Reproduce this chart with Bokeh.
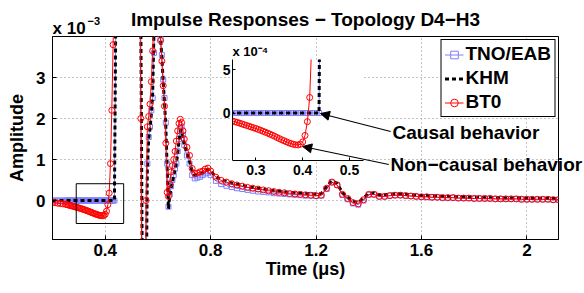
from bokeh.plotting import figure
from bokeh.models import (Range1d, FixedTicker, Legend, LegendItem, Label, Arrow,
                          NormalHead, BoxAnnotation, Column)
from bokeh.embed import file_html
from bokeh.resources import INLINE

FONT = "Liberation Sans"
BLUE = "#7f7fff"

# ---------------- data (amplitude in units of 1e-3) ----------------
time_us = [
    0.20, 0.21, 0.22, 0.23, 0.24,
    0.25, 0.255, 0.26, 0.265, 0.27, 0.275, 0.28, 0.285, 0.29, 0.295,
    0.30, 0.305, 0.31, 0.315, 0.32, 0.325, 0.33, 0.335, 0.34, 0.345,
    0.35, 0.355, 0.36, 0.365, 0.37, 0.375, 0.38, 0.385, 0.39, 0.395,
    0.40, 0.405, 0.41, 0.415, 0.42, 0.425, 0.43, 0.435, 0.44,
    0.45, 0.47, 0.50, 0.52, 0.53,
    0.535, 0.54, 0.545, 0.55, 0.555, 0.56, 0.565, 0.57, 0.575, 0.58, 0.585, 0.59, 0.595,
    0.60, 0.605, 0.61, 0.615, 0.62, 0.625, 0.63, 0.635, 0.64, 0.645, 0.65, 0.655, 0.66,
    0.665, 0.67, 0.675, 0.68, 0.685, 0.69, 0.695, 0.70,
    0.71, 0.72, 0.73, 0.74, 0.75, 0.76, 0.77, 0.78, 0.79,
    0.80, 0.82, 0.84, 0.86, 0.88, 0.90, 0.92, 0.94, 0.96, 0.98,
    1.00, 1.02, 1.04, 1.06, 1.08, 1.10, 1.12, 1.14, 1.16, 1.18,
    1.20, 1.22, 1.24, 1.26, 1.28, 1.30, 1.32, 1.34, 1.36, 1.38,
    1.40, 1.42, 1.44, 1.46, 1.48, 1.50, 1.52, 1.54, 1.56, 1.58,
    1.60, 1.62, 1.64, 1.66, 1.68, 1.70, 1.72, 1.74, 1.76, 1.78,
    1.80, 1.82, 1.84, 1.86, 1.88, 1.90, 1.92, 1.94, 1.96, 1.98,
    2.00, 2.02, 2.04, 2.06, 2.08, 2.10, 2.12,
]

tno_eab = [
    0, 0, 0, 0, 0,
    0, 0, 0, 0, 0, 0, 0, 0, 0, 0,
    0, 0, 0, 0, 0, 0, 0, 0, 0, 0,
    0, 0, 0, 0, 0, 0, 0, 0, 0, 0,
    0, 0, 0, 0, 0, 0, 0, 0, 4.3,
    10.0, 12.0, 12.0, 10.0, 8.0,
    4.2, -1.2, -6.0, -6.0, -2.2, 0.9, 1.55, 1.8, 2.2, 2.5, 3.6, 4.7, 5.0,
    4.6, 4.3, 3.95, 3.55, 2.95, 2.5, 1.9, 0.9, -0.15, 0.15, 0.35, 0.5, 0.62,
    0.78, 0.9, 1.2, 1.5, 1.78, 1.8, 1.6, 1.35,
    1.1, 0.9, 0.62, 0.54, 0.56, 0.58, 0.62, 0.66, 0.68,
    0.62, 0.48, 0.40, 0.36, 0.33, 0.30, 0.28, 0.26, 0.24, 0.22,
    0.21, 0.20, 0.18, 0.17, 0.16, 0.15, 0.14, 0.13, 0.12, 0.12,
    0.11, 0.12, 0.28, 0.44, 0.38, 0.14, 0.03, -0.07, -0.10, 0.00,
    0.14, 0.15, 0.10, 0.10, 0.12, 0.13, 0.13, 0.12, 0.11, 0.10,
    0.09, 0.09, 0.08, 0.08, 0.07, 0.07, 0.07, 0.06, 0.06, 0.06,
    0.05, 0.05, 0.05, 0.05, 0.04, 0.04, 0.04, 0.04, 0.04, 0.03,
    0.03, 0.03, 0.03, 0.03, 0.03, 0.02, 0.02,
]

khm = [
    0, 0, 0, 0, 0,
    0, 0, 0, 0, 0, 0, 0, 0, 0, 0,
    0, 0, 0, 0, 0, 0, 0, 0, 0, 0,
    0, 0, 0, 0, 0, 0, 0, 0, 0, 0,
    0, 0, 0, 0, 0, 0, 0, 0, 4.5,
    10.0, 12.0, 12.0, 10.0, 8.0,
    4.5, -1.0, -6.0, -6.0, -2.5, 0.8, 1.5, 1.75, 2.1, 2.6, 4.1, 4.8, 5.0,
    4.6, 4.3, 3.95, 3.5, 2.9, 2.4, 1.8, 0.8, -0.2, 0.12, 0.3, 0.45, 0.6,
    0.75, 0.9, 1.15, 1.45, 1.7, 1.72, 1.55, 1.35,
    1.15, 0.95, 0.72, 0.62, 0.62, 0.65, 0.68, 0.74, 0.76,
    0.72, 0.58, 0.51, 0.47, 0.43, 0.40, 0.37, 0.34, 0.32, 0.30,
    0.28, 0.26, 0.24, 0.23, 0.21, 0.20, 0.19, 0.18, 0.17, 0.16,
    0.16, 0.17, 0.33, 0.48, 0.42, 0.19, 0.08, -0.02, -0.05, 0.06,
    0.18, 0.18, 0.14, 0.14, 0.15, 0.16, 0.16, 0.15, 0.14, 0.13,
    0.12, 0.12, 0.11, 0.11, 0.10, 0.10, 0.09, 0.09, 0.09, 0.08,
    0.08, 0.08, 0.07, 0.07, 0.07, 0.07, 0.06, 0.06, 0.06, 0.06,
    0.05, 0.05, 0.05, 0.05, 0.05, 0.05, 0.05,
]

bt0 = [
    -0.045, -0.055, -0.065, -0.074, -0.083,
    -0.092, -0.101, -0.109, -0.117, -0.126, -0.135, -0.144, -0.153, -0.162, -0.171,
    -0.180, -0.190, -0.200, -0.211, -0.222, -0.233, -0.245, -0.257, -0.270, -0.283,
    -0.296, -0.309, -0.321, -0.333, -0.344, -0.354, -0.362, -0.368, -0.370, -0.362,
    -0.335, -0.260, -0.100, 0.180, 0.900, 2.200, 3.800, 5.500, 7.500,
    10.0, 12.0, 12.0, 10.0, 7.0,
    2.0, -3.0, -6.0, -4.5, 0.0, 1.8, 2.05, 2.35, 2.9, 3.65, 4.5, 5.0, 5.0,
    4.6, 4.3, 3.9, 3.4, 2.8, 2.3, 1.4, 0.2, 0.1, 0.4, 0.7, 0.85, 1.0,
    1.2, 1.45, 1.7, 1.88, 1.98, 1.9, 1.7, 1.5,
    1.3, 1.1, 0.78, 0.66, 0.67, 0.70, 0.72, 0.77, 0.79,
    0.72, 0.57, 0.49, 0.45, 0.41, 0.38, 0.35, 0.32, 0.30, 0.28,
    0.26, 0.24, 0.22, 0.20, 0.19, 0.17, 0.16, 0.15, 0.14, 0.13,
    0.12, 0.13, 0.30, 0.45, 0.38, 0.15, 0.05, -0.05, -0.08, 0.02,
    0.15, 0.15, 0.10, 0.10, 0.12, 0.13, 0.13, 0.12, 0.11, 0.10,
    0.09, 0.09, 0.08, 0.08, 0.07, 0.07, 0.07, 0.06, 0.06, 0.06,
    0.05, 0.05, 0.05, 0.05, 0.04, 0.04, 0.04, 0.04, 0.04, 0.03,
    0.03, 0.03, 0.03, 0.03, 0.03, 0.02, 0.02,
]

assert len(time_us) == len(tno_eab) == len(khm) == len(bt0), (
    len(time_us), len(tno_eab), len(khm), len(bt0))

x_ticks = [0.4, 0.8, 1.2, 1.6, 2.0]
y_ticks = [0, 1, 2, 3]
inset_x_ticks = [0.3, 0.4, 0.5]
inset_y_ticks = [0, 5]

X_MIN, X_MAX, Y_MIN, Y_MAX = 0.2, 2.12, -0.95, 4.0          # main window (1e-3)
IX_MIN, IX_MAX, IY_MIN, IY_MAX = 0.25, 0.53, -5.5, 6.2      # inset window (1e-4)

# inset: samples inside the inset time window, in units of 1e-4
inset_idx = [i for i, t in enumerate(time_us) if t <= IX_MAX]
inset_time = [time_us[i] for i in inset_idx]
tno_e4 = [tno_eab[i] * 10 for i in inset_idx]
khm_e4 = [khm[i] * 10 for i in inset_idx]
bt0_e4 = [bt0[i] * 10 for i in inset_idx]


def style_axis(ax, size, label_size="18px"):
    ax.axis_line_color = "black"
    ax.axis_line_width = 1
    ax.major_tick_in = 4
    ax.major_tick_out = 0
    ax.major_tick_line_color = "black"
    ax.minor_tick_line_color = None
    ax.major_label_text_font = FONT
    ax.major_label_text_font_size = size
    ax.major_label_text_font_style = "bold"
    ax.major_label_text_color = "black"
    ax.axis_label_text_font = FONT
    ax.axis_label_text_font_size = label_size
    ax.axis_label_text_font_style = "bold"
    ax.axis_label_text_color = "black"


# ---------------- main figure ----------------
W, H = 584, 293
p = figure(width=W, height=H, x_range=Range1d(X_MIN, X_MAX), y_range=Range1d(Y_MIN, Y_MAX),
           output_backend="svg", toolbar_location=None, frame_align=False,
           min_border_left=52, min_border_right=26, min_border_top=35, min_border_bottom=54)
p.title.text = "Impulse Responses \u2212 Topology D4\u2212H3"
p.title.text_font = FONT
p.title.text_font_size = "19px"
p.title.text_font_style = "bold"
p.title.text_color = "black"
p.title.align = "center"
p.title.standoff = 13
p.outline_line_color = "black"
p.outline_line_alpha = 1
p.background_fill_color = "white"

p.xaxis.axis_label = "Time (\u03bcs)"
p.yaxis.axis_label = "Amplitude"
style_axis(p.xaxis[0], "17px")
style_axis(p.yaxis[0], "17px")
p.xaxis.ticker = FixedTicker(ticks=x_ticks)
p.yaxis.ticker = FixedTicker(ticks=y_ticks)
p.xaxis.major_label_overrides = {2: "2"}
p.xaxis.major_label_standoff = 4
p.xaxis.axis_label_standoff = 0
p.yaxis.major_label_standoff = 7
p.yaxis.axis_label_standoff = 6
for g in (p.xgrid, p.ygrid):
    g.grid_line_color = "#8a8a8a"
    g.grid_line_dash = "1 3"
    g.grid_line_width = 1

tno_line = p.line(time_us, tno_eab, line_color=BLUE, line_width=1)
tno_pts = p.scatter(time_us, tno_eab, marker="square", size=5, line_color=BLUE, fill_color=None)
khm_line = p.line(time_us, khm, line_color="black", line_width=3, line_dash="4 3")
bt0_line = p.line(time_us, bt0, line_color="red", line_width=1)
bt0_pts = p.scatter(time_us, bt0, marker="circle", size=6, line_color="red", fill_color=None)

# zoom box marking the inset region
p.add_layout(BoxAnnotation(left=0.29, right=0.47, bottom=-0.56, top=0.41,
                           fill_color=None, fill_alpha=0, line_color="black",
                           line_alpha=1, line_width=1))

legend = Legend(items=[
    LegendItem(label="TNO/EAB", renderers=[tno_line, tno_pts]),
    LegendItem(label="KHM", renderers=[khm_line]),
    LegendItem(label="BT0", renderers=[bt0_line, bt0_pts]),
], location="top_right", label_text_font=FONT, label_text_font_size="19px",
    label_text_font_style="bold", label_text_color="black",
    glyph_width=19, glyph_height=21, label_height=21,
    label_standoff=2, spacing=2, padding=3, margin=3,
    border_line_color="black", border_line_alpha=1, border_line_width=1,
    background_fill_color="white", background_fill_alpha=1)
p.add_layout(legend)

# ---------------- exponent label of the main y axis (small floating canvas) ----------------
R_W, R_H = 80, 35
r = figure(width=R_W, height=R_H, x_range=Range1d(0, R_W), y_range=Range1d(0, R_H),
           output_backend="svg", toolbar_location=None, frame_align=False,
           title_location=None, x_axis_location=None, y_axis_location=None,
           min_border_left=0, min_border_right=0, min_border_top=0, min_border_bottom=0)
r.border_fill_color = None
r.background_fill_color = None
r.outline_line_color = None
r.xgrid.visible = False
r.ygrid.visible = False
r.add_layout(Label(x=0, y=7, text="x 10", text_font=FONT, text_font_size="17px",
                   text_font_style="bold", text_color="black", text_baseline="alphabetic"))
r.add_layout(Label(x=35, y=15, text="\u22123", text_font=FONT, text_font_size="11px",
                   text_font_style="bold", text_color="black", text_baseline="alphabetic"))

# ---------------- inset figure (floats over the main one) ----------------
# frame spans from the inset's left edge to the page's right edge so the
# annotations are not clipped; the inset itself is the white box inside it
IPX = 467.86     # px per unit of inset x
IPY = 8.632      # px per unit of inset y
Q_LEFT, Q_TOP, Q_FRAME_H, Q_BOTTOM = 232, 20, 125, 30
q = figure(width=W, height=Q_TOP + Q_FRAME_H + Q_BOTTOM,
           x_range=Range1d(IX_MIN, IX_MIN + (W - Q_LEFT) / IPX),
           y_range=Range1d(IY_MAX - Q_FRAME_H / IPY, IY_MAX),
           output_backend="svg", toolbar_location=None, frame_align=False,
           min_border_left=Q_LEFT, min_border_right=0, min_border_top=Q_TOP,
           min_border_bottom=Q_BOTTOM)
q.border_fill_color = None
q.background_fill_color = None
q.outline_line_color = None
q.xgrid.visible = False
q.ygrid.visible = False
q.title.text = "x 10\u207b\u2074"
q.title.text_font = FONT
q.title.text_font_size = "13px"
q.title.text_font_style = "bold"
q.title.text_color = "black"
q.title.align = "left"
q.title.standoff = 2

q.add_layout(BoxAnnotation(left=IX_MIN, right=IX_MAX, bottom=IY_MIN, top=IY_MAX,
                           fill_color="white", fill_alpha=1, line_color=None,
                           level="underlay"))

style_axis(q.xaxis[0], "14px")
style_axis(q.yaxis[0], "14px")
q.xaxis.major_tick_in = 3
q.yaxis.major_tick_in = 3
q.xaxis.ticker = FixedTicker(ticks=inset_x_ticks)
q.yaxis.ticker = FixedTicker(ticks=inset_y_ticks)
q.xaxis.fixed_location = IY_MIN
q.xaxis.bounds = (IX_MIN, IX_MAX)
q.yaxis.bounds = (IY_MIN, IY_MAX)
q.xaxis.major_label_standoff = 5
q.yaxis.major_label_standoff = 2

q.line(inset_time, tno_e4, line_color=BLUE, line_width=1)
q.scatter(inset_time, tno_e4, marker="square", size=5, line_color=BLUE, fill_color=None)
q.line(inset_time, khm_e4, line_color="black", line_width=3, line_dash="4 3")
q.line(inset_time, bt0_e4, line_color="red", line_width=1)
q.scatter(inset_time, bt0_e4, marker="circle", size=6, line_color="red", fill_color=None)

# annotations (inset data coordinates)
q.add_layout(Arrow(end=NormalHead(size=9, fill_color="black", line_color="black"),
                   x_start=0.588, y_start=-2.14, x_end=0.438, y_end=-0.06,
                   line_color="black", line_width=1.2))
q.add_layout(Arrow(end=NormalHead(size=9, fill_color="black", line_color="black"),
                   x_start=0.584, y_start=-5.96, x_end=0.400, y_end=-3.88,
                   line_color="black", line_width=1.2))
q.add_layout(Label(x=0.592, y=-2.26, text="Causal behavior", text_font=FONT,
                   text_font_size="19px", text_font_style="bold", text_color="black",
                   text_baseline="middle"))
q.add_layout(Label(x=0.5877, y=-5.96, text="Non\u2212causal behavior", text_font=FONT,
                   text_font_size="19px", text_font_style="bold", text_color="black",
                   text_baseline="middle"))

q.styles = {"position": "absolute", "left": "0px", "top": f"{59 - Q_TOP}px"}
r.styles = {"position": "absolute", "left": "52px", "top": f"{35 - R_H}px"}
layout = Column(children=[p, q, r], styles={"position": "relative"})

open("out.html", "w").write(file_html(layout, INLINE))
